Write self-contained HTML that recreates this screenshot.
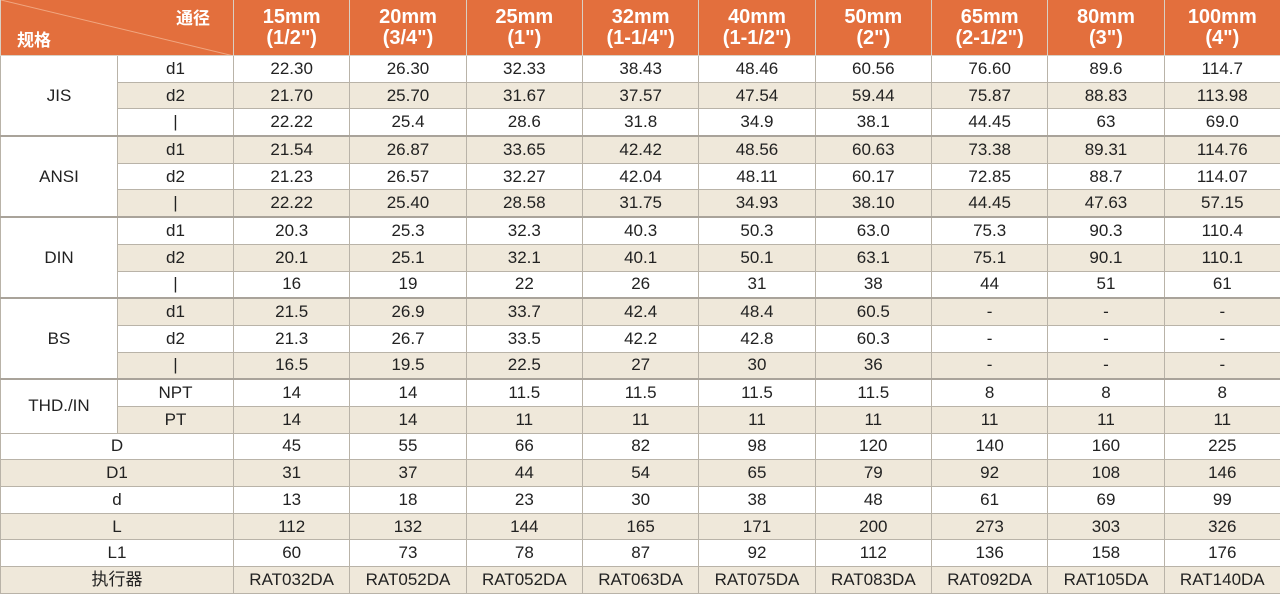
<!DOCTYPE html>
<html><head><meta charset="utf-8"><style>
html,body{margin:0;padding:0;background:#fff;overflow:hidden;}
table{border-collapse:collapse;table-layout:fixed;width:1280px;font-family:"Liberation Sans","Noto Sans CJK SC",sans-serif;font-size:17px;color:#222;}
td,th{text-align:center;padding:0;border:1px solid #b9b3a8;overflow:hidden;white-space:nowrap;}
th{background:#e36f3d;color:#fff;font-weight:bold;font-size:20px;line-height:21px;height:55px;border-color:#d9d0c4;border-top:none;}
tr.r td{height:25.7px;line-height:24px;}
tr.c td{background:#efe8da;}
td.g{background:#fff !important;}
tr.t td{border-top:2px solid #a9a39a;}
</style></head><body>
<table>
<colgroup><col style="width:117px"><col style="width:116px"><col span="9" style="width:116.33px"></colgroup>
<tr><th colspan="2" style="position:relative;text-align:left;">
<svg width="233" height="56" style="position:absolute;left:0;top:0"><line x1="0" y1="0" x2="233" y2="56" stroke="#f0a680" stroke-width="1"/></svg>
<span style="position:absolute;left:16px;top:28px;font-size:17px;font-family:'Noto Sans CJK SC',sans-serif">规格</span>
<span style="position:absolute;left:175px;top:6px;font-size:17px;font-family:'Noto Sans CJK SC',sans-serif">通径</span></th>
<th>15mm<br>(1/2")</th><th>20mm<br>(3/4")</th><th>25mm<br>(1")</th><th>32mm<br>(1-1/4")</th><th>40mm<br>(1-1/2")</th><th>50mm<br>(2")</th><th>65mm<br>(2-1/2")</th><th>80mm<br>(3")</th><th>100mm<br>(4")</th></tr>
<tr class="r"><td class="g" rowspan="3">JIS</td><td>d1</td><td>22.30</td><td>26.30</td><td>32.33</td><td>38.43</td><td>48.46</td><td>60.56</td><td>76.60</td><td>89.6</td><td>114.7</td></tr>
<tr class="r c"><td>d2</td><td>21.70</td><td>25.70</td><td>31.67</td><td>37.57</td><td>47.54</td><td>59.44</td><td>75.87</td><td>88.83</td><td>113.98</td></tr>
<tr class="r"><td>|</td><td>22.22</td><td>25.4</td><td>28.6</td><td>31.8</td><td>34.9</td><td>38.1</td><td>44.45</td><td>63</td><td>69.0</td></tr>
<tr class="r c t"><td class="g" rowspan="3">ANSI</td><td>d1</td><td>21.54</td><td>26.87</td><td>33.65</td><td>42.42</td><td>48.56</td><td>60.63</td><td>73.38</td><td>89.31</td><td>114.76</td></tr>
<tr class="r"><td>d2</td><td>21.23</td><td>26.57</td><td>32.27</td><td>42.04</td><td>48.11</td><td>60.17</td><td>72.85</td><td>88.7</td><td>114.07</td></tr>
<tr class="r c"><td>|</td><td>22.22</td><td>25.40</td><td>28.58</td><td>31.75</td><td>34.93</td><td>38.10</td><td>44.45</td><td>47.63</td><td>57.15</td></tr>
<tr class="r t"><td class="g" rowspan="3">DIN</td><td>d1</td><td>20.3</td><td>25.3</td><td>32.3</td><td>40.3</td><td>50.3</td><td>63.0</td><td>75.3</td><td>90.3</td><td>110.4</td></tr>
<tr class="r c"><td>d2</td><td>20.1</td><td>25.1</td><td>32.1</td><td>40.1</td><td>50.1</td><td>63.1</td><td>75.1</td><td>90.1</td><td>110.1</td></tr>
<tr class="r"><td>|</td><td>16</td><td>19</td><td>22</td><td>26</td><td>31</td><td>38</td><td>44</td><td>51</td><td>61</td></tr>
<tr class="r c t"><td class="g" rowspan="3">BS</td><td>d1</td><td>21.5</td><td>26.9</td><td>33.7</td><td>42.4</td><td>48.4</td><td>60.5</td><td>-</td><td>-</td><td>-</td></tr>
<tr class="r"><td>d2</td><td>21.3</td><td>26.7</td><td>33.5</td><td>42.2</td><td>42.8</td><td>60.3</td><td>-</td><td>-</td><td>-</td></tr>
<tr class="r c"><td>|</td><td>16.5</td><td>19.5</td><td>22.5</td><td>27</td><td>30</td><td>36</td><td>-</td><td>-</td><td>-</td></tr>
<tr class="r t"><td class="g" rowspan="2">THD./IN</td><td>NPT</td><td>14</td><td>14</td><td>11.5</td><td>11.5</td><td>11.5</td><td>11.5</td><td>8</td><td>8</td><td>8</td></tr>
<tr class="r c"><td>PT</td><td>14</td><td>14</td><td>11</td><td>11</td><td>11</td><td>11</td><td>11</td><td>11</td><td>11</td></tr>
<tr class="r"><td colspan="2">D</td><td>45</td><td>55</td><td>66</td><td>82</td><td>98</td><td>120</td><td>140</td><td>160</td><td>225</td></tr>
<tr class="r c"><td colspan="2">D1</td><td>31</td><td>37</td><td>44</td><td>54</td><td>65</td><td>79</td><td>92</td><td>108</td><td>146</td></tr>
<tr class="r"><td colspan="2">d</td><td>13</td><td>18</td><td>23</td><td>30</td><td>38</td><td>48</td><td>61</td><td>69</td><td>99</td></tr>
<tr class="r c"><td colspan="2">L</td><td>112</td><td>132</td><td>144</td><td>165</td><td>171</td><td>200</td><td>273</td><td>303</td><td>326</td></tr>
<tr class="r"><td colspan="2">L1</td><td>60</td><td>73</td><td>78</td><td>87</td><td>92</td><td>112</td><td>136</td><td>158</td><td>176</td></tr>
<tr class="r c"><td colspan="2">执行器</td><td>RAT032DA</td><td>RAT052DA</td><td>RAT052DA</td><td>RAT063DA</td><td>RAT075DA</td><td>RAT083DA</td><td>RAT092DA</td><td>RAT105DA</td><td>RAT140DA</td></tr>
</table>
</body></html>
